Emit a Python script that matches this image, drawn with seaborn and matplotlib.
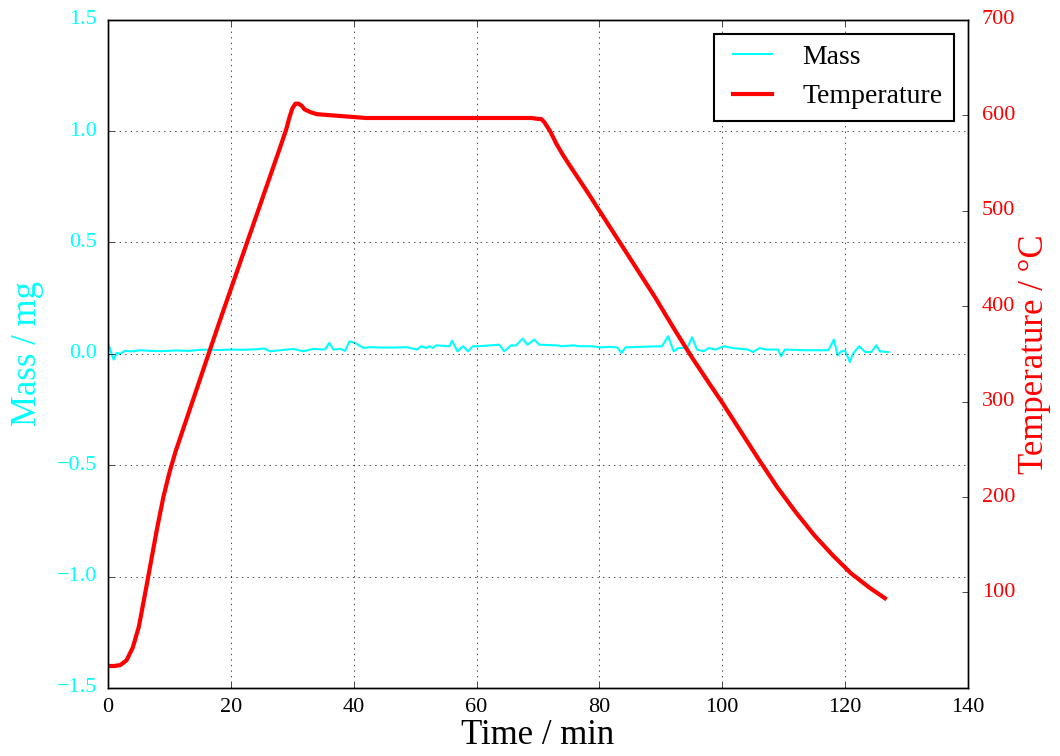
import matplotlib
matplotlib.use('Agg')
import matplotlib.pyplot as plt
import seaborn as sns

# mass readings (min, mg)
mass_time = [0.15, 0.9, 1.4, 2.0, 2.7, 4, 5.2, 7, 9, 11, 13, 15.6, 18, 20, 22, 24, 25.4,
             26.4, 28.0, 30.2, 31.8, 33.4, 35.3, 36.0, 36.7, 37.8, 38.6, 39.3, 40.2, 41.6,
             42.7, 44.8, 46.5, 48.6, 50.3, 51.0, 51.8, 52.3, 52.9, 53.4, 55.6, 56.0, 56.9,
             57.8, 58.6, 59.4, 60.5, 63.7, 64.5, 65.6, 66.4, 67.5, 68.3, 69.4, 70.2, 73.0,
             74.0, 75.7, 76.7, 78.8, 80.2, 81.5, 82.9, 83.6, 84.3, 86.4, 90.2, 91.2, 92.1,
             92.9, 94.3, 95.1, 95.9, 97.0, 97.8, 98.9, 100.3, 101.6, 104.2, 105.0, 106.1,
             107.2, 109.1, 109.6, 110.2, 113.5, 117.3, 118.2, 118.8, 119.4, 120.0, 120.8,
             121.3, 122.3, 123.3, 124.3, 125.1, 125.7, 127.0]
mass_mg = [0.034, -0.026, 0.004, 0.000, 0.013, 0.011, 0.016, 0.013, 0.012, 0.015, 0.013, 0.019,
           0.017, 0.019, 0.018, 0.020, 0.024,
           0.011, 0.016, 0.022, 0.011, 0.022, 0.019, 0.049, 0.019, 0.022, 0.013, 0.056, 0.049,
           0.026, 0.030, 0.028, 0.028, 0.030, 0.019, 0.034, 0.026, 0.034, 0.026, 0.038, 0.034,
           0.059, 0.011, 0.034, 0.011, 0.034, 0.034, 0.041, 0.011, 0.038, 0.037, 0.068, 0.041,
           0.064, 0.041, 0.038, 0.034, 0.038, 0.034, 0.034, 0.029, 0.031, 0.029, 0.004, 0.029,
           0.031, 0.034, 0.079, 0.011, 0.026, 0.026, 0.074, 0.019, 0.011, 0.026, 0.019, 0.034,
           0.026, 0.019, 0.008, 0.026, 0.019, 0.019, -0.011, 0.019, 0.016, 0.016, 0.064, -0.007,
           0.011, 0.014, -0.037, 0.000, 0.034, 0.008, 0.008, 0.038, 0.011, 0.008]

# temperature readings (min, degC)
temp_time = [0, 1, 2, 3, 4, 5, 6, 7, 8, 9, 10, 11, 12, 13, 14, 15, 16, 18, 20, 22, 24, 26, 28,
             29, 29.5, 30, 30.5, 31, 31.5, 32, 33, 34, 36, 38, 40, 42, 50, 60, 69, 70, 70.5,
             71, 72, 73, 74, 75, 78, 80, 83, 86, 89, 92, 95, 98, 100, 103, 106, 109, 112,
             115, 118, 121, 124, 126.5]
temp_c = [23, 23, 24, 29, 42, 64, 98, 133, 168, 200, 226, 248, 267, 286, 305, 324, 343, 381,
          418, 455, 492, 529, 566, 585, 597, 607, 612, 612, 610, 606, 603, 601, 600, 599, 598,
          597, 597, 597, 597, 596, 596, 593, 583, 570, 559, 549, 520, 500, 470, 440, 410, 378,
          347, 318, 299, 269, 239, 210, 184, 160, 139, 120, 105, 94]

plt.style.use('classic')
plt.rcParams['font.family'] = ['Liberation Serif', 'DejaVu Serif']
plt.rcParams['mathtext.fontset'] = 'stix'

fig, ax = plt.subplots(figsize=(10.6, 7.56), dpi=100)
fig.subplots_adjust(left=0.102, right=0.913, top=0.974, bottom=0.090)

sns.lineplot(x=mass_time, y=mass_mg, ax=ax, color='cyan', lw=1.5, label='Mass', legend=False)
ax.set_xlim(0, 140)
ax.set_ylim(-1.5, 1.5)
ax.set_yticks([-1.5, -1.0, -0.5, 0.0, 0.5, 1.0, 1.5])
ax.set_xlabel('Time / min', fontsize=25, labelpad=2)
ax.set_ylabel('Mass / mg', fontsize=25, color='cyan', labelpad=9)
ax.tick_params(axis='y', labelcolor='cyan', labelsize=16, pad=8)
ax.tick_params(axis='x', labelsize=16, pad=7)
ax.grid(True)

ax2 = ax.twinx()
sns.lineplot(x=temp_time, y=temp_c, ax=ax2, color='red', lw=3, label='Temperature', legend=False)
ax2.set_ylim(0, 700)
ax2.set_yticks(range(100, 800, 100))
ax2.set_ylabel('Temperature / °C', fontsize=25, color='red', labelpad=2)
ax2.tick_params(axis='y', labelcolor='red', labelsize=16, pad=10)

h1, l1 = ax.get_legend_handles_labels()
h2, l2 = ax2.get_legend_handles_labels()
leg = ax2.legend(h1 + h2, l1 + l2, loc='upper right', fontsize=20, labelspacing=0.5,
                 borderaxespad=0.5)
leg.get_frame().set_linewidth(1.5)

fig.savefig('out.png', dpi=100)
